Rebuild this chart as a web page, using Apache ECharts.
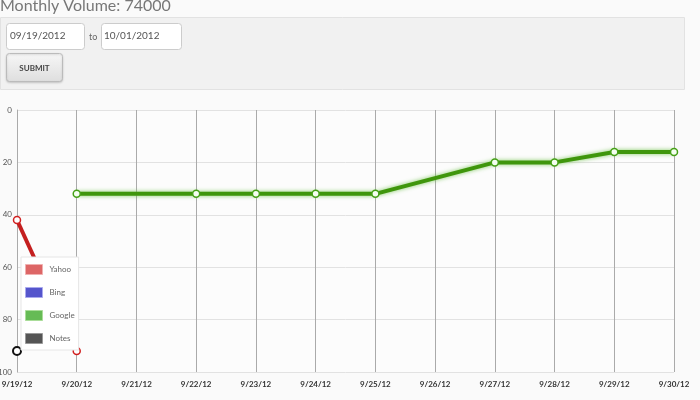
<!DOCTYPE html>
<html>
<head>
<meta charset="utf-8">
<script src="https://cdn.jsdelivr.net/npm/echarts@6/dist/echarts.min.js"></script>
<style>
html,body{margin:0;padding:0;background:#fafafa;}
#chart{width:700px;height:400px;}
</style>
</head>
<body>
<div id="chart"></div>
<script>
const categories = ['9/19/12','9/20/12','9/21/12','9/22/12','9/23/12','9/24/12','9/25/12','9/26/12','9/27/12','9/28/12','9/29/12','9/30/12'];
const yahooValues = [42, 92, null, null, null, null, null, null, null, null, null, null];
const bingValues = [];
const googleValues = [null, 32, null, 32, 32, 32, 32, null, 20, 20, 16, 16];
const notesValues = [92, null, null, null, null, null, null, null, null, null, null, null];
const yTicks = [0, 20, 40, 60, 80, 100];

const chart = echarts.init(document.getElementById('chart'));
const font = 'Lato, "Open Sans", sans-serif';
chart.setOption({
  backgroundColor: '#fafafa',
  animation: false,
  graphic: [
    {type:'text', left:0, top:-2, style:{text:'Monthly Volume: 74000', font:'16px '+font, fill:'#777'}},
    {type:'rect', shape:{x:0.5,y:17.5,width:684,height:72}, style:{fill:'#f1f1f1', stroke:'#e2e2e2', lineWidth:1}},
    {type:'rect', shape:{x:6.5,y:23.5,width:78,height:26,r:3}, style:{fill:'#fff', stroke:'#ccc', lineWidth:1}},
    {type:'text', x:10, y:36, style:{text:'09/19/2012', font:'10px '+font, fill:'#555', verticalAlign:'middle'}},
    {type:'text', x:89, y:37, style:{text:'to', font:'9px '+font, fill:'#666', verticalAlign:'middle'}},
    {type:'rect', shape:{x:101.5,y:23.5,width:80,height:26,r:3}, style:{fill:'#fff', stroke:'#ccc', lineWidth:1}},
    {type:'text', x:104, y:36, style:{text:'10/01/2012', font:'10px '+font, fill:'#555', verticalAlign:'middle'}},
    {type:'rect', shape:{x:6.5,y:53.5,width:56,height:28,r:3}, style:{
      fill:new echarts.graphic.LinearGradient(0,0,0,1,[{offset:0,color:'#f7f7f7'},{offset:1,color:'#dedede'}]),
      stroke:'#bbb', lineWidth:1, shadowBlur:2, shadowColor:'rgba(0,0,0,0.15)', shadowOffsetY:1}},
    {type:'text', x:34.5, y:68, style:{text:'SUBMIT', font:'bold 8px '+font, fill:'#444', align:'center', verticalAlign:'middle'}}
  ],
  grid: {left:17, right:26, top:110, bottom:28, show:true, backgroundColor:'#fcfcfc', borderWidth:0,
         containLabel:false, outerBoundsMode:'none'},
  legend: {
    orient:'vertical', left:21, top:257, z:20,
    backgroundColor:'#fff', borderColor:'#e6e6e6', borderWidth:1,
    padding:[7,4,6,4], itemGap:12, itemWidth:17, itemHeight:10,
    icon:'rect',
    data:[
      {name:'Yahoo', itemStyle:{color:'#dd6666', borderColor:'#f0b0b0', borderWidth:1}},
      {name:'Bing', itemStyle:{color:'#5555cc', borderColor:'#aaaaee', borderWidth:1}},
      {name:'Google', itemStyle:{color:'#66bb55', borderColor:'#aadd99', borderWidth:1}},
      {name:'Notes', itemStyle:{color:'#555555', borderColor:'#999', borderWidth:1}}
    ],
    textStyle:{color:'#666', fontSize:8, fontFamily:font, padding:[0,0,0,2], width:27, align:'right'},
    selectedMode:false
  },
  xAxis: {
    type:'category', data:categories, boundaryGap:false,
    axisLine:{show:false}, axisTick:{show:false},
    axisLabel:{color:'#333', fontSize:8, fontFamily:font, margin:8, fontWeight:'bold'},
    splitLine:{show:true, lineStyle:{color:'#aaa', width:1}}
  },
  yAxis: {
    type:'value', inverse:true, min:0, max:100, interval:20,
    axisLine:{show:true, lineStyle:{color:'#aaa'}}, axisTick:{show:false},
    axisLabel:{color:'#555', fontSize:8, fontFamily:font, margin:5,
      formatter: v => yTicks.includes(v) ? String(v) : ''},
    splitLine:{show:true, lineStyle:{color:'#e2e2e2', width:1}}
  },
  series: [
    {name:'Yahoo', type:'line', data:yahooValues, connectNulls:true, z:3,
     lineStyle:{color:'#c41f1f', width:4}, itemStyle:{color:'#fff', borderColor:'#d02020', borderWidth:1.5},
     symbol:'circle', symbolSize:7, showSymbol:true},
    {name:'Bing', type:'line', data:bingValues, lineStyle:{color:'#5555cc'}, itemStyle:{color:'#5555cc'}},
    {name:'Google', type:'line', data:googleValues, connectNulls:true, z:4,
     lineStyle:{color:'#3f960c', width:4, shadowBlur:4, shadowColor:'rgba(100,190,60,0.8)'},
     itemStyle:{color:'#f4fff0', borderColor:'#45a016', borderWidth:1.5},
     symbol:'circle', symbolSize:7, showSymbol:true},
    {name:'Notes', type:'line', data:notesValues, z:5,
     lineStyle:{color:'#000', width:0},
     itemStyle:{color:'#fff', borderColor:'#111', borderWidth:2},
     symbol:'circle', symbolSize:8, showSymbol:true}
  ]
});
</script>
</body>
</html>
